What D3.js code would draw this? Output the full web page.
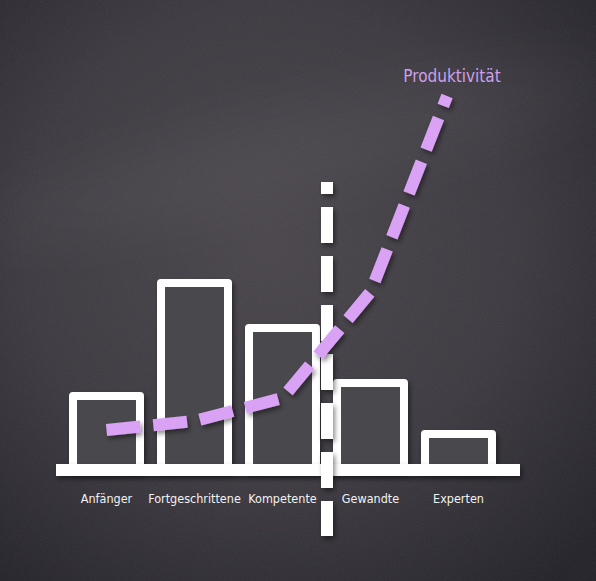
<!DOCTYPE html>
<html><head><meta charset="utf-8">
<script src="https://cdn.jsdelivr.net/npm/d3@7"></script>
<style>html,body{margin:0;padding:0;background:#333136;overflow:hidden}</style>
</head><body>
<svg id="chart" width="596" height="581"></svg>
<script>
// ---- data ----
const categories = ["Anfänger", "Fortgeschrittene", "Kompetente", "Gewandte", "Experten"];
const barValues = [17.25, 45.5, 34.25, 20.5, 7.75];
// productivity curve: position along category axis (index) and level
const productivityPos = [0, 1, 2, 3, 3.87];
const productivityVal = [8.75, 11, 16.75, 43.25, 92.25];
const lineLabel = "Produktivität";

// ---- layout ----
const W = 596, H = 581;
const svg = d3.select("#chart");
const defs = svg.append("defs");

const bg = defs.append("radialGradient").attr("id", "bg").attr("cx", "45%").attr("cy", "42%").attr("r", "75%");
bg.append("stop").attr("offset", "0%").attr("stop-color", "#48444a");
bg.append("stop").attr("offset", "55%").attr("stop-color", "#3b383f");
bg.append("stop").attr("offset", "100%").attr("stop-color", "#232128");

const sh = defs.append("filter").attr("id", "shadow").attr("filterUnits", "userSpaceOnUse")
  .attr("x", 0).attr("y", 0).attr("width", W).attr("height", H);
sh.append("feDropShadow").attr("dx", 2).attr("dy", 3).attr("stdDeviation", 2.5).attr("flood-color", "#000").attr("flood-opacity", 0.45);

const noise = defs.append("filter").attr("id", "noise");
noise.append("feTurbulence").attr("type", "fractalNoise").attr("baseFrequency", "0.9").attr("numOctaves", 2).attr("seed", 3).attr("result", "n");
noise.append("feColorMatrix").attr("type", "matrix").attr("values", "0 0 0 0 1  0 0 0 0 1  0 0 0 0 1  0 0 0 0.06 0");

const soft = defs.append("filter").attr("id", "soft").attr("filterUnits", "userSpaceOnUse")
  .attr("x", -200).attr("y", -200).attr("width", W + 400).attr("height", H + 400);
soft.append("feGaussianBlur").attr("stdDeviation", 30);

svg.append("rect").attr("width", W).attr("height", H).attr("fill", "url(#bg)");
svg.append("rect").attr("width", W).attr("height", H).attr("filter", "url(#noise)");
svg.append("ellipse").attr("cx", 300).attr("cy", 150).attr("rx", 330).attr("ry", 40)
  .attr("fill", "#ffffff").attr("opacity", 0.035).attr("filter", "url(#soft)")
  .attr("transform", "rotate(-14 300 150)");

const baseY = 465;
const x = d3.scalePoint().domain(categories).range([106.5, 458.5]);
const xi = d3.scaleLinear().domain([0, categories.length - 1]).range([106.5, 458.5]);
const y = d3.scaleLinear().domain([0, 100]).range([baseY, 65]);
const barW = 67;

const g = svg.append("g");

// bars
g.selectAll("rect.bar").data(categories).join("rect")
  .attr("class", "bar")
  .attr("x", d => x(d) - barW / 2)
  .attr("y", (d, i) => y(barValues[i]))
  .attr("width", barW)
  .attr("height", (d, i) => baseY - y(barValues[i]) + 4)
  .attr("fill", "#4a484d")
  .attr("stroke", "#ffffff")
  .attr("stroke-width", 8)
  .attr("stroke-linejoin", "round")
  .attr("filter", "url(#shadow)");

// baseline
g.append("rect").attr("x", 56).attr("y", baseY - 1).attr("width", 464).attr("height", 12)
  .attr("fill", "#ffffff").attr("filter", "url(#shadow)");

// vertical dashed divider
g.append("line").attr("x1", 327).attr("x2", 327).attr("y1", 182).attr("y2", 536)
  .attr("stroke", "#ffffff").attr("stroke-width", 12)
  .attr("stroke-dasharray", "36,13").attr("stroke-dashoffset", 24)
  .attr("filter", "url(#shadow)");

// category labels
g.selectAll("text.cat").data(categories).join("text")
  .attr("class", "cat")
  .attr("x", d => x(d))
  .attr("y", 503)
  .attr("text-anchor", "middle")
  .attr("fill", "#f2f2f2")
  .attr("font-family", "'DejaVu Sans Condensed', 'Liberation Sans Narrow', sans-serif")
  .attr("font-size", 12.5)
  .text(d => d);

// productivity line
const pts = productivityPos.map((p, i) => [xi(p), y(productivityVal[i])]);
g.append("path").attr("d", d3.line().curve(d3.curveLinear)(pts))
  .attr("fill", "none").attr("stroke", "#d9a2f4").attr("stroke-width", 12)
  .attr("stroke-dasharray", "34,13").attr("stroke-linecap", "butt").attr("stroke-linejoin", "miter")
  .attr("filter", "url(#shadow)");

g.append("text").attr("x", 452).attr("y", 82).attr("text-anchor", "middle")
  .attr("fill", "#cf9fea")
  .attr("font-family", "'DejaVu Sans Condensed', 'Liberation Sans Narrow', sans-serif")
  .attr("font-size", 17)
  .text(lineLabel);
</script>
</body></html>
